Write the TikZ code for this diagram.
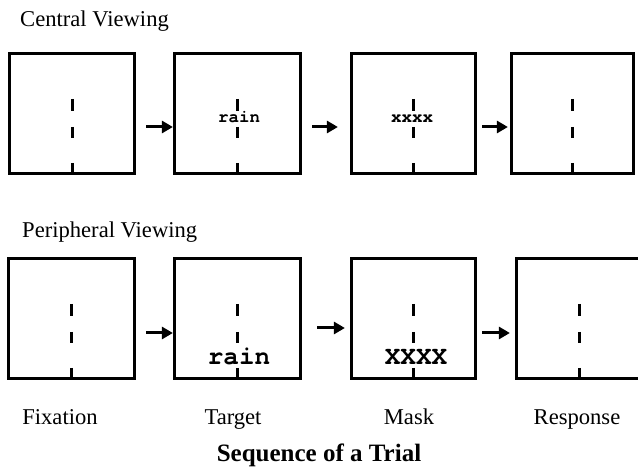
\documentclass[tikz,border=0pt]{standalone}
\usepackage{fontspec}
\setmainfont{Liberation Serif}
\newfontfamily\courfont{TeX Gyre Cursor}
\usetikzlibrary{arrows.meta}
\begin{document}
\begin{tikzpicture}[x=1pt,y=-1pt,
  screen/.style={draw, line width=3.2pt, minimum height=120pt, inner sep=0pt},
  fixdash/.style={line width=3pt},
  arr/.style={line width=3pt, -{Triangle[length=11pt,width=12pt]}},
  lab/.style={anchor=base, font=\fontsize{22.6}{26}\selectfont, inner sep=0pt},
  ttl/.style={anchor=base, font=\bfseries\fontsize{25}{29}\selectfont, inner sep=0pt},
  smallword/.style={anchor=base, font=\courfont\bfseries\fontsize{17.5}{20}\selectfont, inner sep=0pt},
  bigword/.style={anchor=base, font=\courfont\bfseries\fontsize{26}{30}\selectfont, inner sep=0pt},
]
\useasboundingbox[fill=white] (0,0) rectangle (638,470);

% headers
\node[lab, anchor=base west] (hc) at (20,27) {Central Viewing};
\node[lab, anchor=base west] (hp) at (22,238) {Peripheral Viewing};

% central row
\node[screen, minimum width=125pt] (c1) at (72,113.5) {};
\node[screen, minimum width=126pt] (c2) at (237.5,113.5) {};
\node[screen, minimum width=124pt] (c3) at (413.5,113.5) {};
\node[screen, minimum width=122pt] (c4) at (572.5,113.5) {};

% peripheral row
\node[screen, minimum width=126pt] (p1) at (71.5,318.5) {};
\node[screen, minimum width=126pt] (p2) at (237.5,318.5) {};
\node[screen, minimum width=124pt] (p3) at (413.5,318.5) {};
\node[screen, minimum width=125pt] (p4) at (579,318.5) {};

% fixation dashes
\foreach \n in {c1,c2,c3,c4,p1,p2,p3,p4}{
  \draw[fixdash] ([yshift=-47pt]\n.north) -- ([yshift=-59pt]\n.north);
  \draw[fixdash] ([yshift=-75pt]\n.north) -- ([yshift=-86pt]\n.north);
  \draw[fixdash] ([yshift=-111pt]\n.north) -- (\n.south);
}

% words
\node[smallword] (tc) at (239,122.7) {rain};
\node[smallword] (mc) at (412,122.7) {xxxx};
\node[bigword] (tp) at (239,365) {rain};
\node[bigword] (mp) at (416,365) {XXXX};

% arrows central
\draw[arr] ([shift={(10pt,-13.5pt)}]c1.east) -- ([yshift=-13.5pt]c2.west);
\draw[arr] ([shift={(10pt,-13.5pt)}]c2.east) -- ([shift={(-12pt,-13.5pt)}]c3.west);
\draw[arr] ([shift={(5pt,-13.5pt)}]c3.east) -- ([shift={(-2pt,-13.5pt)}]c4.west);

% arrows peripheral
\draw[arr] ([shift={(10pt,-14.5pt)}]p1.east) -- ([yshift=-14.5pt]p2.west);
\draw[arr] ([shift={(15pt,-9.5pt)}]p2.east) -- ([shift={(-5pt,-9.5pt)}]p3.west);
\draw[arr] ([shift={(5pt,-14.5pt)}]p3.east) -- ([shift={(-5pt,-14.5pt)}]p4.west);

% labels
\node[lab] (lf) at (60,425) {Fixation};
\node[lab] (lt) at (233,425) {Target};
\node[lab] (lm) at (409,425) {Mask};
\node[lab] (lr) at (577,425) {Response};
\node[ttl] (title) at (319,462) {Sequence of a Trial};
\end{tikzpicture}
\end{document}
